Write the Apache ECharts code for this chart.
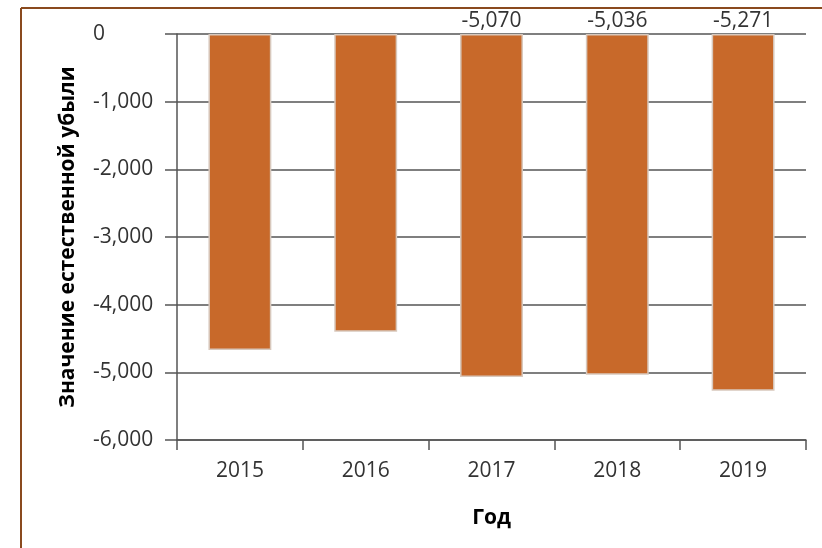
<!DOCTYPE html>
<html><head><meta charset="utf-8">
<script src="https://cdn.jsdelivr.net/npm/echarts@6/dist/echarts.min.js"></script>
<style>html,body{margin:0;padding:0;background:#fff}#c{width:822px;height:548px}</style>
</head><body><div id="c"></div>
<script>
const years = ['2015','2016','2017','2018','2019'];
const values = [-4670, -4400, -5070, -5036, -5271];
const showLabel = [false, false, true, true, true];
const yTicks = {min: -6000, max: 0, interval: 1000};

const fmt = v => Number(v).toLocaleString('en-US');
const chart = echarts.init(document.getElementById('c'));
chart.setOption({
  animation: false,
  grid: {left: 177, right: 16, top: 34, bottom: 108},
  graphic: [
    {type: 'line', shape: {x1: 21, y1: 8, x2: 822, y2: 8}, style: {stroke: '#8a4a1e', lineWidth: 2}},
    {type: 'line', shape: {x1: 21, y1: 8, x2: 21, y2: 548}, style: {stroke: '#8a4a1e', lineWidth: 2}}
  ],
  xAxis: {
    type: 'category', data: years, position: 'bottom',
    name: 'Год', nameLocation: 'middle', nameGap: 68,
    nameTextStyle: {fontFamily: 'Open Sans', fontWeight: 'bold', fontSize: 21, color: '#000'},
    axisLine: {onZero: false, lineStyle: {color: '#555', width: 1.5}},
    axisTick: {show: true, length: 10, lineStyle: {color: '#555', width: 1.5}},
    axisLabel: {fontFamily: 'Open Sans', fontSize: 21, color: '#333', margin: 21}
  },
  yAxis: {
    type: 'value', min: yTicks.min, max: yTicks.max, interval: yTicks.interval,
    name: 'Значение естественной убыли', nameLocation: 'middle', nameGap: 98, nameRotate: 90,
    nameTextStyle: {fontFamily: 'Open Sans', fontWeight: 'bold', fontSize: 21, color: '#000'},
    axisLine: {show: true, lineStyle: {color: '#555', width: 1.5}},
    axisTick: {show: true, length: 12, lineStyle: {color: '#555', width: 1.5}},
    axisLabel: {fontFamily: 'Open Sans', fontSize: 21, color: '#333', margin: 84, align: 'left',
      formatter: v => fmt(v)},
    splitLine: {show: true, lineStyle: {color: '#555', width: 1.5}}
  },
  series: [{
    type: 'bar', barWidth: '50%',
    data: values.map((v, i) => ({value: v, label: {show: showLabel[i]}})),
    itemStyle: {color: '#c8692a', borderColor: '#d8c8bc', borderWidth: 1.5},
    label: {position: 'top', distance: 2, fontFamily: 'Open Sans', fontSize: 21, color: '#333',
      formatter: p => fmt(p.value)}
  }]
});
</script></body></html>
